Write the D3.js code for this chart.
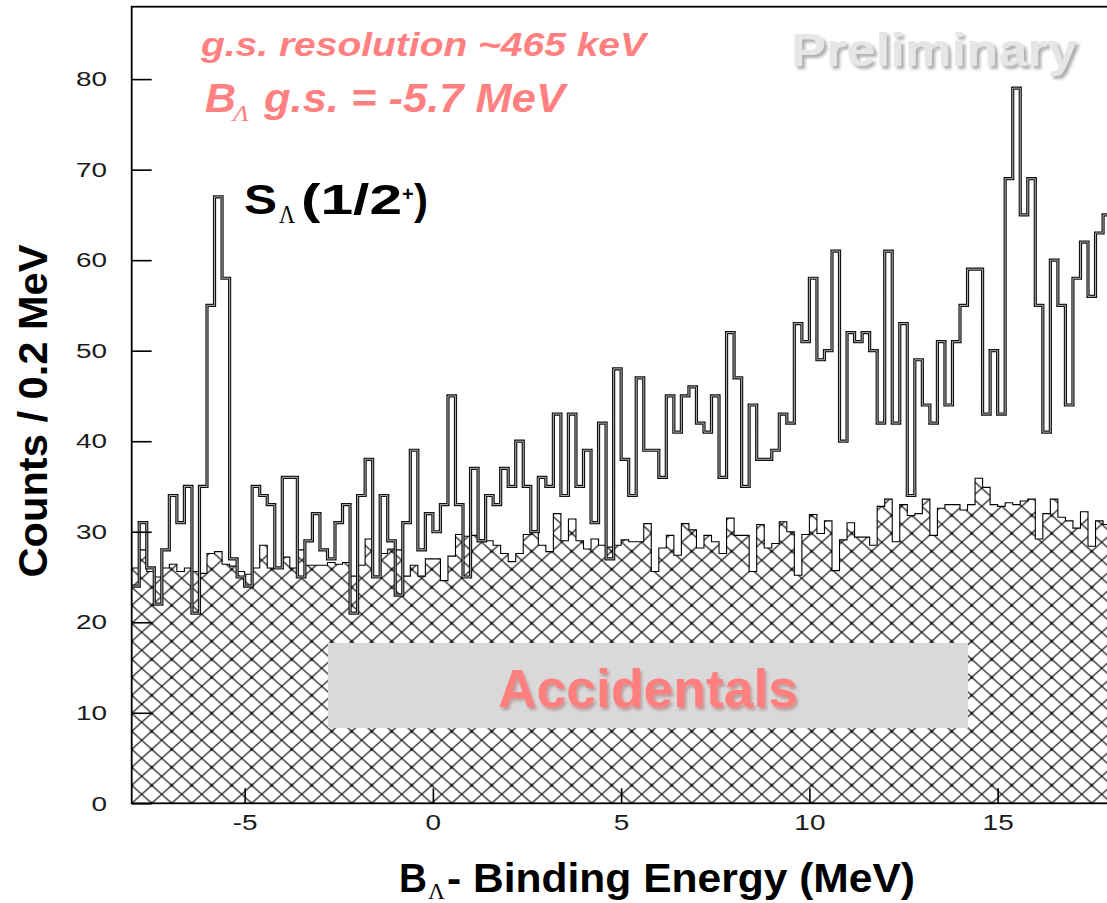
<!DOCTYPE html>
<html>
<head>
<meta charset="utf-8">
<script src="https://cdn.jsdelivr.net/npm/d3@7"></script>
<style>
  body { margin: 0; background: #fff; }
  svg { display: block; font-family: "Liberation Sans", Arial, Helvetica, sans-serif; }
</style>
</head>
<body>
<svg id="chart" width="1107" height="903"></svg>
<script>
// histogram binning (MeV)
var binStart = -8,
    binWidth = 0.2;

// signal counts per 0.2 MeV bin
var signalCounts = [
    24, 31, 26, 22, 28, 34, 31, 35, 21, 35,
    55, 67, 58, 27, 25, 24, 35, 34, 33, 26,
    36, 36, 25, 29, 32, 28, 27, 31, 33, 21,
    34, 38, 25, 34, 29, 23, 31, 39, 28, 32,
    30, 33, 45, 33, 25, 37, 29, 34, 33, 37,
    35, 40, 35, 30, 36, 35, 43, 34, 43, 35,
    39, 31, 42, 27, 48, 38, 34, 47, 39, 39,
    36, 45, 41, 45, 46, 42, 41, 45, 36, 52,
    47, 35, 44, 38, 38, 39, 43, 42, 53, 51,
    58, 49, 50, 61, 40, 52, 51, 52, 50, 42,
    61, 42, 53, 34, 49, 44, 42, 51, 44, 51,
    55, 59, 59, 43, 50, 43, 69, 79, 65, 69,
    55, 41, 60, 55, 44, 58, 62, 56, 63, 65
];

// accidentals (hatched) per bin
var accidentalCounts = [
    26, 28, 25.6, 25, 26, 26.4, 25.6, 26, 25.6, 25.4,
    27.6, 27.8, 26.4, 26.2, 25.6, 25.3, 26, 28.5, 26, 26,
    27.2, 26, 28, 26.3, 26.3, 26.3, 26.6, 26.4, 26.6, 25.1,
    26.3, 29.2, 25.1, 27.6, 28.1, 28, 25.1, 26.3, 25.1, 27,
    27, 24.6, 27.3, 29.7, 29.5, 29.6, 29.1, 29, 28.5, 27.6,
    26.7, 27.6, 29.7, 30.1, 28.5, 27.8, 32, 29, 31.4, 29,
    28.1, 29.2, 28.5, 28.3, 28.5, 29.1, 28.9, 28.9, 30.9, 25.6,
    28.2, 29.6, 27.4, 30.9, 30.2, 28.2, 29.6, 28.9, 27.6, 31.5,
    29.6, 29.6, 25.6, 30.8, 28.2, 28.7, 31.1, 30, 25.2, 29.7,
    31.9, 29.8, 31.2, 25.7, 29.1, 31, 29.4, 29.4, 28.5, 32.8,
    33.6, 28.9, 33, 31.8, 32, 33.6, 29.6, 32.6, 33, 33,
    32.4, 33, 35.9, 34.9, 33, 32.8, 33.2, 33, 33.4, 33.6,
    29.2, 32, 33.6, 31.6, 31.2, 30.4, 32.2, 28.4, 31.2, 30.8
];

var xMajorTicks = [-5, 0, 5, 10, 15],
    yMajorTicks = [0, 10, 20, 30, 40, 50, 60, 70, 80];

var svg = d3.select("#chart");

var x = d3.scaleLinear().domain([-8, 18]).range([131.7, 1110.6]),
    y = d3.scaleLinear().domain([0, 88]).range([803.3, 6.7]);

function toSteps(counts) {
    var pts = counts.map(function (c, i) { return [binStart + i * binWidth, c]; });
    pts.push([binStart + counts.length * binWidth, counts[counts.length - 1]]);
    return pts;
}

var defs = svg.append("defs");

defs.append("clipPath").attr("id", "plotclip")
    .append("rect")
    .attr("x", x(-8)).attr("y", y(88))
    .attr("width", x(18) - x(-8)).attr("height", y(0) - y(88));

// cross hatch for accidentals
var pw = 20, ph = 18;
var pat = defs.append("pattern")
    .attr("id", "hatch")
    .attr("patternUnits", "userSpaceOnUse")
    .attr("x", x(-8)).attr("y", y(0))
    .attr("width", pw).attr("height", ph);
pat.append("rect").attr("width", pw).attr("height", ph).attr("fill", "#fff");
pat.append("path")
    .attr("d", "M0,0L" + pw + "," + ph + "M" + pw + ",0L0," + ph)
    .attr("stroke", "#000").attr("stroke-width", 1.1);
[[0, 0], [pw, 0], [0, ph], [pw, ph]].forEach(function (p) {
    pat.append("circle").attr("cx", p[0]).attr("cy", p[1]).attr("r", 1.5).attr("fill", "#000");
});

var shadow = defs.append("filter").attr("id", "shadow")
    .attr("x", "-10%").attr("y", "-30%").attr("width", "130%").attr("height", "170%");
shadow.append("feDropShadow")
    .attr("dx", 3).attr("dy", 3).attr("stdDeviation", 1.6)
    .attr("flood-color", "#777").attr("flood-opacity", 0.6);

var pinkShadow = defs.append("filter").attr("id", "pinkshadow")
    .attr("x", "-10%").attr("y", "-30%").attr("width", "130%").attr("height", "170%");
pinkShadow.append("feDropShadow")
    .attr("dx", 2).attr("dy", 3).attr("stdDeviation", 1.8)
    .attr("flood-color", "#a05050").attr("flood-opacity", 0.45);

var plot = svg.append("g").attr("clip-path", "url(#plotclip)");

var area = d3.area()
    .curve(d3.curveStepAfter)
    .x(function (d) { return x(d[0]); })
    .y0(y(0))
    .y1(function (d) { return y(d[1]); });

var line = d3.line()
    .curve(d3.curveStepAfter)
    .x(function (d) { return x(d[0]); })
    .y(function (d) { return y(d[1]); });

var accSteps = toSteps(accidentalCounts),
    sigSteps = toSteps(signalCounts);

plot.append("path")
    .datum(accSteps)
    .attr("d", area)
    .attr("fill", "url(#hatch)");

plot.append("path")
    .datum(accSteps)
    .attr("d", line)
    .attr("fill", "none")
    .attr("stroke", "#000")
    .attr("stroke-width", 1.1);

// "Accidentals" box sits over the hatch
svg.append("rect")
    .attr("x", 328).attr("y", 643)
    .attr("width", 640).attr("height", 85)
    .attr("fill", "#d9d9d9");

svg.append("text")
    .attr("x", 498).attr("y", 707)
    .attr("font-size", 54).attr("font-weight", "bold")
    .attr("fill", "#ff7f7f")
    .attr("textLength", 300).attr("lengthAdjust", "spacingAndGlyphs")
    .attr("filter", "url(#pinkshadow)")
    .text("Accidentals");

plot.append("path")
    .datum(sigSteps)
    .attr("d", line)
    .attr("fill", "none")
    .attr("stroke", "#111")
    .attr("stroke-width", 3.2)
    .attr("stroke-linejoin", "miter");

plot.append("path")
    .datum(sigSteps)
    .attr("d", line)
    .attr("fill", "none")
    .attr("stroke", "#d8d8d8")
    .attr("stroke-width", 0.8);

// axes, ticks pointing inward
var yMinor = d3.range(0, 89, 2).filter(function (d) { return d % 10 !== 0; }),
    xMinor = d3.range(-8, 19, 1).filter(function (d) { return d % 5 !== 0; });

var gy = svg.append("g").attr("transform", "translate(" + x(-8) + ",0)");
gy.call(d3.axisLeft(y).tickValues(yMinor).tickSize(-12).tickFormat(""));
gy.call(d3.axisLeft(y).tickValues(yMajorTicks).tickSize(-20).tickPadding(18.5)
    .tickFormat(function (d) { return String(d); }));
gy.selectAll(".domain").remove();
gy.selectAll("line").attr("stroke", "#000").attr("stroke-width", 1.6);
gy.selectAll("text")
    .attr("transform", "scale(1.33,1)")
    .attr("font-size", 21)
    .attr("font-family", "'Liberation Sans', Arial, sans-serif")
    .attr("fill", "#1a1a1a");

var gx = svg.append("g").attr("transform", "translate(0," + y(0) + ")");
gx.call(d3.axisBottom(x).tickValues(xMinor).tickSize(-7).tickFormat(""));
gx.call(d3.axisBottom(x).tickValues(xMajorTicks).tickSize(-15).tickPadding(11.5)
    .tickFormat(function (d) { return String(d); }));
gx.selectAll(".domain").remove();
gx.selectAll("line").attr("stroke", "#000").attr("stroke-width", 1.6);
gx.selectAll("text")
    .attr("transform", "scale(1.3,1)")
    .attr("font-size", 21.5)
    .attr("font-family", "'Liberation Sans', Arial, sans-serif")
    .attr("fill", "#1a1a1a");

// frame
svg.append("rect")
    .attr("x", x(-8)).attr("y", y(88))
    .attr("width", x(18) - x(-8)).attr("height", y(0) - y(88))
    .attr("fill", "none")
    .attr("stroke", "#000")
    .attr("stroke-width", 1.8);

// annotations
var pink = "#ff8080",
    serif = "'Liberation Serif', 'DejaVu Serif', serif";

svg.append("text")
    .attr("x", 201).attr("y", 56)
    .attr("font-size", 34).attr("font-weight", "bold").attr("font-style", "italic")
    .attr("fill", pink)
    .attr("textLength", 445).attr("lengthAdjust", "spacingAndGlyphs")
    .text("g.s. resolution  ~465 keV");

svg.append("text")
    .attr("x", 205).attr("y", 112)
    .attr("font-size", 41).attr("font-weight", "bold").attr("font-style", "italic")
    .attr("fill", pink)
    .attr("textLength", 31).attr("lengthAdjust", "spacingAndGlyphs")
    .text("B");
svg.append("text")
    .attr("x", 233).attr("y", 121)
    .attr("font-size", 24).attr("font-style", "italic")
    .attr("font-family", serif)
    .attr("fill", pink)
    .attr("textLength", 16).attr("lengthAdjust", "spacingAndGlyphs")
    .text("Λ");
svg.append("text")
    .attr("x", 264).attr("y", 112)
    .attr("font-size", 41).attr("font-weight", "bold").attr("font-style", "italic")
    .attr("fill", pink)
    .attr("textLength", 301).attr("lengthAdjust", "spacingAndGlyphs")
    .text("g.s. = -5.7 MeV");

svg.append("text")
    .attr("x", 791).attr("y", 66)
    .attr("font-size", 46).attr("font-weight", "bold")
    .attr("fill", "#e6e6e6")
    .attr("textLength", 286).attr("lengthAdjust", "spacingAndGlyphs")
    .attr("filter", "url(#shadow)")
    .text("Preliminary");

svg.append("text")
    .attr("x", 244).attr("y", 214)
    .attr("font-size", 42).attr("font-weight", "bold")
    .attr("textLength", 33).attr("lengthAdjust", "spacingAndGlyphs")
    .text("S");
svg.append("text")
    .attr("x", 279).attr("y", 223)
    .attr("font-size", 25)
    .attr("font-family", serif)
    .attr("textLength", 16).attr("lengthAdjust", "spacingAndGlyphs")
    .text("Λ");
svg.append("text")
    .attr("x", 301).attr("y", 214)
    .attr("font-size", 42).attr("font-weight", "bold")
    .attr("textLength", 101).attr("lengthAdjust", "spacingAndGlyphs")
    .text("(1/2");
svg.append("text")
    .attr("x", 402).attr("y", 201)
    .attr("font-size", 20).attr("font-weight", "bold")
    .text("+");
svg.append("text")
    .attr("x", 414).attr("y", 214)
    .attr("font-size", 42).attr("font-weight", "bold")
    .attr("textLength", 14).attr("lengthAdjust", "spacingAndGlyphs")
    .text(")");

// axis titles
svg.append("text")
    .attr("transform", "translate(47,411) rotate(-90)")
    .attr("text-anchor", "middle")
    .attr("font-size", 41).attr("font-weight", "bold")
    .attr("textLength", 333).attr("lengthAdjust", "spacingAndGlyphs")
    .text("Counts / 0.2 MeV");

svg.append("text")
    .attr("x", 399).attr("y", 892)
    .attr("font-size", 41).attr("font-weight", "bold")
    .attr("textLength", 28).attr("lengthAdjust", "spacingAndGlyphs")
    .text("B");
svg.append("text")
    .attr("x", 428).attr("y", 899)
    .attr("font-size", 24)
    .attr("font-family", serif)
    .attr("textLength", 17).attr("lengthAdjust", "spacingAndGlyphs")
    .text("Λ");
svg.append("text")
    .attr("x", 447).attr("y", 892)
    .attr("font-size", 41).attr("font-weight", "bold")
    .attr("textLength", 468).attr("lengthAdjust", "spacingAndGlyphs")
    .text("- Binding Energy (MeV)");
</script>
</body>
</html>
